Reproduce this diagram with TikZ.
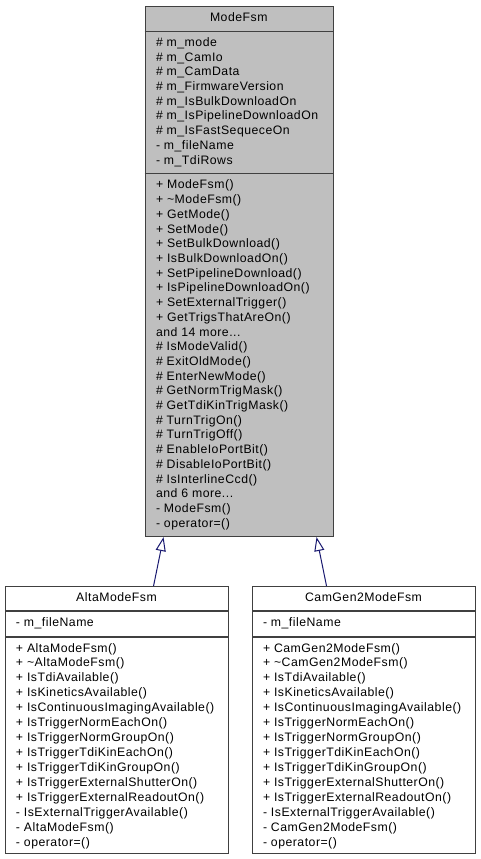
\documentclass[tikz,border=0pt]{standalone}
\usepackage{fontspec}
\setmainfont{Liberation Sans}
\newfontfamily\dfont[LetterSpace=4]{Liberation Sans}
\newcommand\rowfont{\dfont\fontsize{9.2}{11}\selectfont}
\newcommand\threedots{...}
\usetikzlibrary{arrows.meta,calc}
\definecolor{edgeblue}{HTML}{191970}
\definecolor{boxgray}{HTML}{BFBFBF}
\definecolor{bordergray}{HTML}{404040}
\newcommand\pxu{0.75pt}
\newcommand\rowlist[5]{\foreach \rowtxt [count=\i from 0] in {#5} {\node[row] (#1\i) at (#2, #3+\i*#4) {\rowtxt};}}
\tikzset{
  box/.style={draw=bordergray, line width=0.8pt, rectangle, inner sep=0, anchor=north west},
  sepline/.style={draw=bordergray, line width=0.8pt},
  row/.style={anchor=base west, inner sep=0, outer sep=0, font=\rowfont},
  ttl/.style={anchor=base, inner sep=0, outer sep=0, font=\rowfont},
  inh/.style={draw=edgeblue, line width=0.75pt, -{Triangle[open, length=10.5pt, width=7.5pt]}},
}
\begin{document}
\begin{tikzpicture}[x=0.75pt, y=-0.75pt]
\useasboundingbox (0,0) rectangle (480,859);
% ModeFsm
\node[box, fill=boxgray, minimum width=188.5*\pxu, minimum height=530*\pxu] (modefsm) at (144.5,6) {};
\draw[sepline] (modefsm.west |- 0,31.5) -- (modefsm.east |- 0,31.5);
\draw[sepline] (modefsm.west |- 0,173.5) -- (modefsm.east |- 0,173.5);
\node[ttl] (modefsmtitle) at (238.75,22) {ModeFsm};
\rowlist{ma}{156}{46.5}{14.7}{\# m\_mode, \# m\_CamIo, \# m\_CamData, \# m\_FirmwareVersion, \# m\_IsBulkDownloadOn, \# m\_IsPipelineDownloadOn, \# m\_IsFastSequeceOn, - m\_fileName, - m\_TdiRows}
\rowlist{mm}{156}{189}{14.7}{+ ModeFsm(), + \textasciitilde ModeFsm(), + GetMode(), + SetMode(), + SetBulkDownload(), + IsBulkDownloadOn(), + SetPipelineDownload(), + IsPipelineDownloadOn(), + SetExternalTrigger(), + GetTrigsThatAreOn(), and 14 more\threedots, \# IsModeValid(), \# ExitOldMode(), \# EnterNewMode(), \# GetNormTrigMask(), \# GetTdiKinTrigMask(), \# TurnTrigOn(), \# TurnTrigOff(), \# EnableIoPortBit(), \# DisableIoPortBit(), \# IsInterlineCcd(), and 6 more\threedots, - ModeFsm(), - operator=()}
% AltaModeFsm
\node[box, fill=white, minimum width=223*\pxu, minimum height=267*\pxu] (alta) at (5,586) {};
\draw[sepline] (alta.west |- 0,611) -- (alta.east |- 0,611);
\draw[sepline] (alta.west |- 0,637) -- (alta.east |- 0,637);
\node[ttl] (altatitle) at (116.5,601.5) {AltaModeFsm};
\rowlist{aa}{16}{626}{14.95}{- m\_fileName}
\rowlist{am}{16}{652}{14.95}{+ AltaModeFsm(), + \textasciitilde AltaModeFsm(), + IsTdiAvailable(), + IsKineticsAvailable(), + IsContinuousImagingAvailable(), + IsTriggerNormEachOn(), + IsTriggerNormGroupOn(), + IsTriggerTdiKinEachOn(), + IsTriggerTdiKinGroupOn(), + IsTriggerExternalShutterOn(), + IsTriggerExternalReadoutOn(), - IsExternalTriggerAvailable(), - AltaModeFsm(), - operator=()}
% CamGen2ModeFsm
\node[box, fill=white, minimum width=223*\pxu, minimum height=267*\pxu] (camgen) at (252,586) {};
\draw[sepline] (camgen.west |- 0,611) -- (camgen.east |- 0,611);
\draw[sepline] (camgen.west |- 0,637) -- (camgen.east |- 0,637);
\node[ttl] (camgentitle) at (363.5,601.5) {CamGen2ModeFsm};
\rowlist{ca}{263}{626}{14.95}{- m\_fileName}
\rowlist{cm}{263}{652}{14.95}{+ CamGen2ModeFsm(), + \textasciitilde CamGen2ModeFsm(), + IsTdiAvailable(), + IsKineticsAvailable(), + IsContinuousImagingAvailable(), + IsTriggerNormEachOn(), + IsTriggerNormGroupOn(), + IsTriggerTdiKinEachOn(), + IsTriggerTdiKinGroupOn(), + IsTriggerExternalShutterOn(), + IsTriggerExternalReadoutOn(), - IsExternalTriggerAvailable(), - CamGen2ModeFsm(), - operator=()}
% inheritance
\draw[inh] ($(alta.north)+(36.5,0)$) -- ($(modefsm.south)+(-75.75,0)$);
\draw[inh] ($(camgen.north)+(-37.5,0)$) -- ($(modefsm.south)+(77.25,0)$);
\end{tikzpicture}
\end{document}
